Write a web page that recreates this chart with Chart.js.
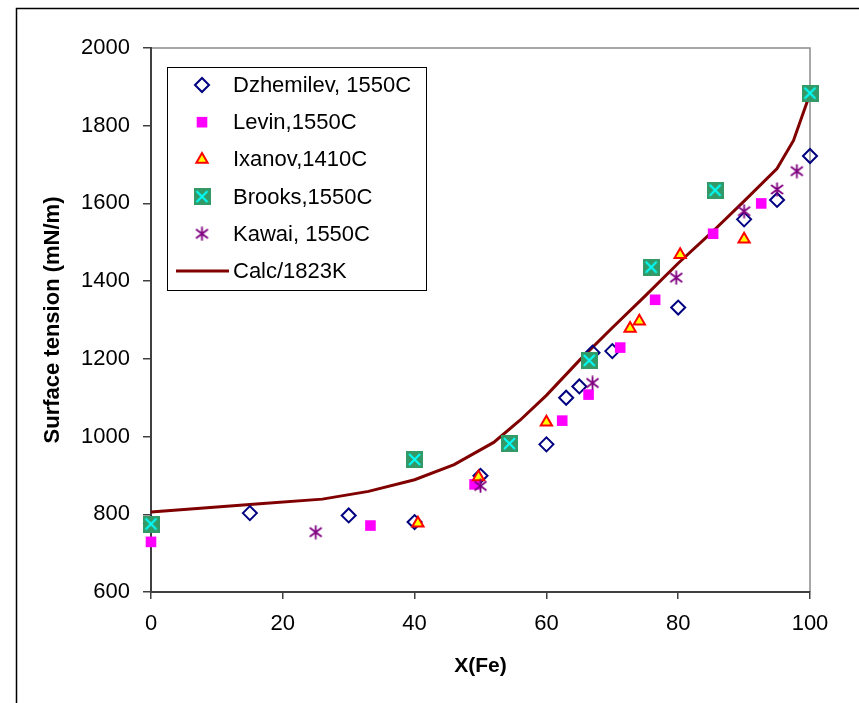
<!DOCTYPE html>
<html>
<head>
<meta charset="utf-8">
<script src="https://cdn.jsdelivr.net/npm/chart.js@4.4.0/dist/chart.umd.min.js"></script>
<style>
  body { margin: 0; background: #fff; }
  #wrap { width: 859px; height: 703px; }
</style>
</head>
<body>
<div id="wrap"><canvas id="myChart" width="859" height="703"></canvas></div>
<script>
// measured points, X(Fe) in % and surface tension in mN/m
const dzhemilevX = [0, 15, 30, 40, 50, 60, 63, 65, 67, 70, 80, 90, 95, 100];
const dzhemilevY = [776, 803, 797, 780, 899, 980, 1100, 1129, 1216, 1220, 1332, 1559, 1609, 1722];

const levinX = [0, 33.3, 49.1, 62.4, 66.4, 71.2, 76.5, 85.3, 92.6];
const levinY = [729, 771, 877, 1041, 1108, 1229, 1352, 1522, 1600];

const ixanovX = [40.5, 49.7, 60, 72.7, 74.1, 80.3, 90];
const ixanovY = [777, 896, 1037, 1278, 1297, 1468, 1508];

const brooksX = [0, 40, 54.4, 66.5, 75.9, 85.6, 100];
const brooksY = [775, 941, 982, 1196, 1436, 1634, 1884];

const kawaiX = [25, 50, 67, 79.7, 90, 95, 98];
const kawaiY = [754, 873, 1138, 1409, 1580, 1636, 1683];

// calculated curve at 1823K
const calcX = [0, 8, 17, 26, 33, 40, 46, 52, 56, 60, 65, 70, 75, 80, 85, 90, 95, 97.5, 100];
const calcY = [806, 816, 828, 839, 859, 889, 928, 985, 1042, 1106, 1196, 1280, 1362, 1446, 1524, 1606, 1690, 1762, 1882];

const xTicks = [0, 20, 40, 60, 80, 100];
const yTicks = [600, 800, 1000, 1200, 1400, 1600, 1800, 2000];

function pairs(xs, ys) {
  return xs.map((x, i) => ({ x: x, y: ys[i] }));
}

// green box with a cyan cross
function brooksMarker() {
  const c = document.createElement('canvas');
  c.width = 17; c.height = 17;
  const g = c.getContext('2d');
  g.fillStyle = '#339966';
  g.fillRect(0, 0, 17, 17);
  g.strokeStyle = '#00ffff';
  g.lineWidth = 2;
  g.beginPath();
  g.moveTo(3, 3); g.lineTo(14, 14);
  g.moveTo(14, 3); g.lineTo(3, 14);
  g.stroke();
  return c;
}

// six-armed asterisk
function kawaiMarker() {
  const c = document.createElement('canvas');
  c.width = 15; c.height = 15;
  const g = c.getContext('2d');
  g.strokeStyle = '#800080';
  g.lineWidth = 1.8;
  g.beginPath();
  g.moveTo(7.5, 0.5); g.lineTo(7.5, 14.5);
  g.moveTo(1.5, 3); g.lineTo(13.5, 12);
  g.moveTo(1.5, 12); g.lineTo(13.5, 3);
  g.stroke();
  return c;
}

Chart.defaults.font.family = "'Liberation Sans', Arial, sans-serif";
Chart.defaults.color = '#000';

// outer frame and the light top/right edges of the plot box
const framePlugin = {
  id: 'frame',
  beforeDraw(chart) {
    const ctx = chart.ctx;
    const a = chart.chartArea;
    ctx.save();
    ctx.fillStyle = '#fff';
    ctx.fillRect(0, 0, chart.width, chart.height);
    ctx.strokeStyle = '#000';
    ctx.lineWidth = 1.5;
    ctx.strokeRect(16.5, 8.5, 1000, 1000);
    ctx.strokeStyle = '#8c8c8c';
    ctx.lineWidth = 1.5;
    ctx.beginPath();
    ctx.moveTo(a.left, a.top);
    ctx.lineTo(a.right, a.top);
    ctx.lineTo(a.right, a.bottom);
    ctx.stroke();
    ctx.restore();
  }
};

// legend box inside the plot
const boxLegend = {
  id: 'boxLegend',
  afterDraw(chart) {
    const ctx = chart.ctx;
    const left = 167, top = 67, w = 259, h = 223;
    ctx.save();
    ctx.fillStyle = '#fff';
    ctx.fillRect(left, top, w, h);
    ctx.strokeStyle = '#000';
    ctx.lineWidth = 1;
    ctx.strokeRect(left + 0.5, top + 0.5, w, h);
    ctx.font = "22px 'Liberation Sans', Arial, sans-serif";
    ctx.textBaseline = 'middle';
    chart.data.datasets.forEach((ds, i) => {
      const y = 85 + i * 37.2;
      if (ds.showLine) {
        ctx.strokeStyle = ds.borderColor;
        ctx.lineWidth = ds.borderWidth;
        ctx.beginPath();
        ctx.moveTo(176, y);
        ctx.lineTo(229, y);
        ctx.stroke();
      } else {
        ctx.fillStyle = ds.pointBackgroundColor;
        ctx.strokeStyle = ds.pointBorderColor;
        ctx.lineWidth = ds.pointBorderWidth;
        Chart.helpers.drawPoint(ctx, {
          pointStyle: ds.pointStyle,
          rotation: 0,
          radius: ds.pointRadius,
          borderWidth: ds.pointBorderWidth
        }, 202, y);
      }
      ctx.fillStyle = '#000';
      ctx.fillText(ds.label, 233, y + 1);
    });
    ctx.restore();
  }
};

const data = {
  datasets: [
    {
      label: 'Dzhemilev, 1550C',
      data: pairs(dzhemilevX, dzhemilevY),
      pointStyle: 'rectRot',
      pointRadius: 7,
      pointBorderWidth: 2,
      pointBackgroundColor: 'rgba(255,255,255,0)',
      pointBorderColor: '#000080',
      showLine: false,
      clip: false,
      order: 5
    },
    {
      label: 'Levin,1550C',
      data: pairs(levinX, levinY),
      pointStyle: 'rect',
      pointRadius: 7.5,
      pointBorderWidth: 0,
      pointBackgroundColor: '#ff00ff',
      pointBorderColor: '#ff00ff',
      showLine: false,
      clip: false,
      order: 4
    },
    {
      label: 'Ixanov,1410C',
      data: pairs(ixanovX, ixanovY),
      pointStyle: 'triangle',
      pointRadius: 6.5,
      pointBorderWidth: 2,
      pointBackgroundColor: '#ffff00',
      pointBorderColor: '#ff0000',
      showLine: false,
      clip: false,
      order: 3
    },
    {
      label: 'Brooks,1550C',
      data: pairs(brooksX, brooksY),
      pointStyle: brooksMarker(),
      pointRadius: 8,
      pointBorderWidth: 0,
      pointBackgroundColor: '#339966',
      pointBorderColor: '#339966',
      showLine: false,
      clip: false,
      order: 2
    },
    {
      label: 'Kawai, 1550C',
      data: pairs(kawaiX, kawaiY),
      pointStyle: kawaiMarker(),
      pointRadius: 7,
      pointBorderWidth: 0,
      pointBackgroundColor: '#800080',
      pointBorderColor: '#800080',
      showLine: false,
      clip: false,
      order: 1
    },
    {
      label: 'Calc/1823K',
      data: pairs(calcX, calcY),
      showLine: true,
      borderColor: '#800000',
      borderWidth: 3,
      pointRadius: 0,
      tension: 0,
      clip: false,
      order: 6
    }
  ]
};

const config = {
  type: 'scatter',
  data: data,
  options: {
    responsive: false,
    animation: false,
    layout: { padding: { top: 48, right: 49, left: 0, bottom: 0 } },
    plugins: {
      legend: { display: false },
      tooltip: { enabled: false }
    },
    scales: {
      x: {
        type: 'linear',
        min: 0,
        max: 100,
        afterBuildTicks: (s) => { s.ticks = xTicks.map(v => ({ value: v })); },
        afterFit: (s) => { s.height = 111; },
        ticks: { font: { size: 22 }, color: '#000', padding: 12, maxRotation: 0, callback: (v) => String(v) },
        grid: { drawOnChartArea: false, drawTicks: true, tickLength: 7, color: '#404040', lineWidth: 1.5 },
        border: { color: '#404040', width: 2 },
        title: {
          display: true,
          text: 'X(Fe)',
          font: { size: 21, weight: 'bold' },
          color: '#000',
          padding: { top: 0, bottom: 24 }
        }
      },
      y: {
        type: 'linear',
        min: 600,
        max: 2000,
        afterBuildTicks: (s) => { s.ticks = yTicks.map(v => ({ value: v })); },
        afterFit: (s) => { s.width = 151; },
        ticks: { font: { size: 22 }, color: '#000', padding: 13, callback: (v) => String(v) },
        grid: { drawOnChartArea: false, drawTicks: true, tickLength: 8, color: '#404040', lineWidth: 1.5 },
        border: { color: '#404040', width: 2 },
        title: {
          display: true,
          text: 'Surface tension (mN/m)',
          font: { size: 22, weight: 'bold' },
          color: '#000',
          padding: { top: 40, bottom: 0 }
        }
      }
    }
  },
  plugins: [framePlugin, boxLegend]
};

const myChart = new Chart(document.getElementById('myChart'), config);
</script>
</body>
</html>
